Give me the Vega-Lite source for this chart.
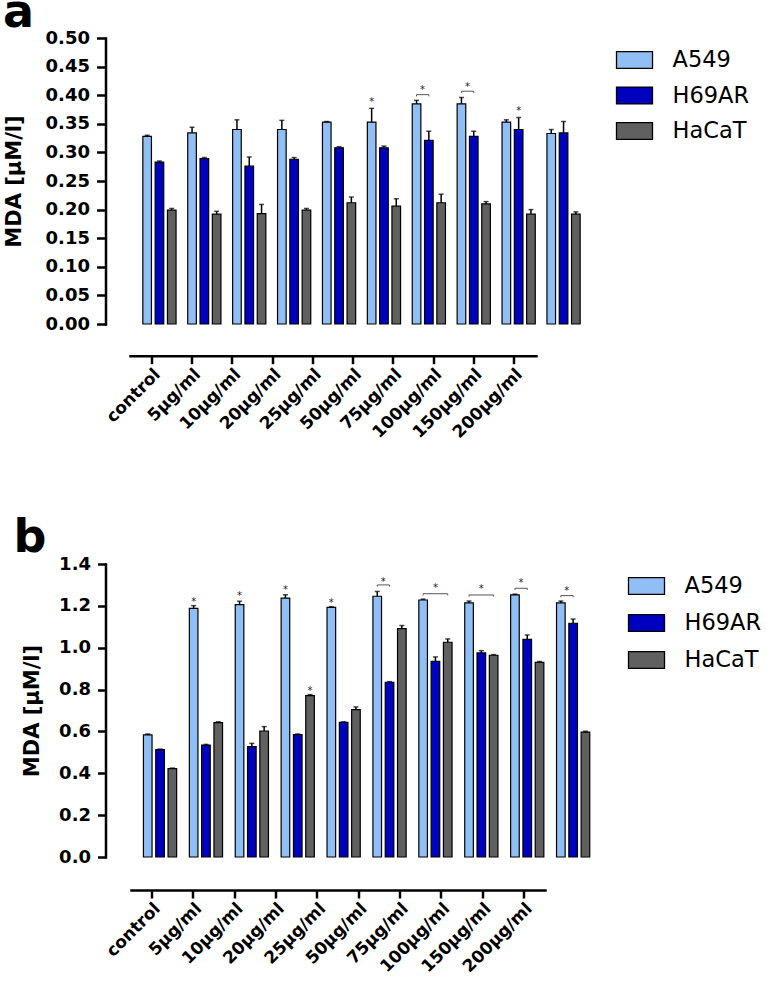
{
  "$schema": "https://vega.github.io/schema/vega-lite/v6.json",
  "padding": {"left": 2.5, "top": -10, "right": 0, "bottom": 0},
  "spacing": 74,
  "config": {
    "font": "DejaVu Sans",
    "view": {"stroke": null},
    "axis": {"domainColor": "black", "tickColor": "black", "labelColor": "black", "titleColor": "black", "grid": false, "domainWidth": 2.5, "tickWidth": 2.5, "domainCap": "square"},
    "legend": {"labelFont": "DejaVu Sans", "labelFontSize": 22.5, "labelColor": "black", "symbolType": "M-1,-0.47L1,-0.47L1,0.47L-1,0.47Z", "symbolSize": 1296, "symbolStrokeColor": "black", "symbolStrokeWidth": 1.3, "symbolOpacity": 1, "labelOffset": 19, "rowPadding": 4.5, "title": null}
  },
  "datasets": {
    "barsA": [
      {"dose": "control", "series": "A549", "value": 0.328, "upper": 0.330},
      {"dose": "control", "series": "H69AR", "value": 0.283, "upper": 0.285},
      {"dose": "control", "series": "HaCaT", "value": 0.199, "upper": 0.202},
      {"dose": "5μg/ml", "series": "A549", "value": 0.334, "upper": 0.344},
      {"dose": "5μg/ml", "series": "H69AR", "value": 0.289, "upper": 0.291},
      {"dose": "5μg/ml", "series": "HaCaT", "value": 0.192, "upper": 0.197},
      {"dose": "10µg/ml", "series": "A549", "value": 0.340, "upper": 0.357},
      {"dose": "10µg/ml", "series": "H69AR", "value": 0.276, "upper": 0.292},
      {"dose": "10µg/ml", "series": "HaCaT", "value": 0.193, "upper": 0.209},
      {"dose": "20µg/ml", "series": "A549", "value": 0.340, "upper": 0.356},
      {"dose": "20µg/ml", "series": "H69AR", "value": 0.288, "upper": 0.291},
      {"dose": "20µg/ml", "series": "HaCaT", "value": 0.199, "upper": 0.202},
      {"dose": "25µg/ml", "series": "A549", "value": 0.353, "upper": 0.354},
      {"dose": "25µg/ml", "series": "H69AR", "value": 0.308, "upper": 0.310},
      {"dose": "25µg/ml", "series": "HaCaT", "value": 0.212, "upper": 0.222},
      {"dose": "50µg/ml", "series": "A549", "value": 0.353, "upper": 0.377},
      {"dose": "50µg/ml", "series": "H69AR", "value": 0.308, "upper": 0.311},
      {"dose": "50µg/ml", "series": "HaCaT", "value": 0.206, "upper": 0.219},
      {"dose": "75µg/ml", "series": "A549", "value": 0.385, "upper": 0.391},
      {"dose": "75µg/ml", "series": "H69AR", "value": 0.321, "upper": 0.337},
      {"dose": "75µg/ml", "series": "HaCaT", "value": 0.212, "upper": 0.227},
      {"dose": "100µg/ml", "series": "A549", "value": 0.385, "upper": 0.396},
      {"dose": "100µg/ml", "series": "H69AR", "value": 0.328, "upper": 0.337},
      {"dose": "100µg/ml", "series": "HaCaT", "value": 0.210, "upper": 0.214},
      {"dose": "150µg/ml", "series": "A549", "value": 0.353, "upper": 0.357},
      {"dose": "150µg/ml", "series": "H69AR", "value": 0.340, "upper": 0.361},
      {"dose": "150µg/ml", "series": "HaCaT", "value": 0.192, "upper": 0.200},
      {"dose": "200µg/ml", "series": "A549", "value": 0.333, "upper": 0.340},
      {"dose": "200µg/ml", "series": "H69AR", "value": 0.334, "upper": 0.354},
      {"dose": "200µg/ml", "series": "HaCaT", "value": 0.192, "upper": 0.196}
    ],
    "starsA": [
      {"dose": "50µg/ml", "series": "A549", "y": 0.391},
      {"dose": "150µg/ml", "series": "H69AR", "y": 0.376}
    ],
    "starsMidA": [
      {"dose": "75µg/ml", "series": "A549", "y": 0.413},
      {"dose": "100µg/ml", "series": "A549", "y": 0.418}
    ],
    "bracketsA": [
      {"id": "a75", "dose": "75µg/ml", "series": "A549", "y": 0.398, "o": 1},
      {"id": "a75", "dose": "75µg/ml", "series": "A549", "y": 0.401, "o": 2},
      {"id": "a75", "dose": "75µg/ml", "series": "H69AR", "y": 0.401, "o": 3},
      {"id": "a75", "dose": "75µg/ml", "series": "H69AR", "y": 0.398, "o": 4},
      {"id": "a100", "dose": "100µg/ml", "series": "A549", "y": 0.404, "o": 1},
      {"id": "a100", "dose": "100µg/ml", "series": "A549", "y": 0.407, "o": 2},
      {"id": "a100", "dose": "100µg/ml", "series": "H69AR", "y": 0.407, "o": 3},
      {"id": "a100", "dose": "100µg/ml", "series": "H69AR", "y": 0.404, "o": 4}
    ],
    "barsB": [
      {"dose": "control", "series": "A549", "value": 0.584, "upper": 0.588},
      {"dose": "control", "series": "H69AR", "value": 0.513, "upper": 0.516},
      {"dose": "control", "series": "HaCaT", "value": 0.422, "upper": 0.425},
      {"dose": "5μg/ml", "series": "A549", "value": 1.188, "upper": 1.201},
      {"dose": "5μg/ml", "series": "H69AR", "value": 0.535, "upper": 0.538},
      {"dose": "5μg/ml", "series": "HaCaT", "value": 0.642, "upper": 0.646},
      {"dose": "10µg/ml", "series": "A549", "value": 1.206, "upper": 1.222},
      {"dose": "10µg/ml", "series": "H69AR", "value": 0.527, "upper": 0.543},
      {"dose": "10µg/ml", "series": "HaCaT", "value": 0.602, "upper": 0.623},
      {"dose": "20µg/ml", "series": "A549", "value": 1.237, "upper": 1.253},
      {"dose": "20µg/ml", "series": "H69AR", "value": 0.585, "upper": 0.588},
      {"dose": "20µg/ml", "series": "HaCaT", "value": 0.771, "upper": 0.776},
      {"dose": "25µg/ml", "series": "A549", "value": 1.193, "upper": 1.196},
      {"dose": "25µg/ml", "series": "H69AR", "value": 0.643, "upper": 0.646},
      {"dose": "25µg/ml", "series": "HaCaT", "value": 0.704, "upper": 0.717},
      {"dose": "50µg/ml", "series": "A549", "value": 1.246, "upper": 1.269},
      {"dose": "50µg/ml", "series": "H69AR", "value": 0.835, "upper": 0.838},
      {"dose": "50µg/ml", "series": "HaCaT", "value": 1.091, "upper": 1.106},
      {"dose": "75µg/ml", "series": "A549", "value": 1.228, "upper": 1.232},
      {"dose": "75µg/ml", "series": "H69AR", "value": 0.935, "upper": 0.956},
      {"dose": "75µg/ml", "series": "HaCaT", "value": 1.026, "upper": 1.042},
      {"dose": "100µg/ml", "series": "A549", "value": 1.214, "upper": 1.223},
      {"dose": "100µg/ml", "series": "H69AR", "value": 0.975, "upper": 0.986},
      {"dose": "100µg/ml", "series": "HaCaT", "value": 0.964, "upper": 0.967},
      {"dose": "150µg/ml", "series": "A549", "value": 1.252, "upper": 1.256},
      {"dose": "150µg/ml", "series": "H69AR", "value": 1.040, "upper": 1.061},
      {"dose": "150µg/ml", "series": "HaCaT", "value": 0.930, "upper": 0.934},
      {"dose": "200µg/ml", "series": "A549", "value": 1.214, "upper": 1.223},
      {"dose": "200µg/ml", "series": "H69AR", "value": 1.117, "upper": 1.137},
      {"dose": "200µg/ml", "series": "HaCaT", "value": 0.597, "upper": 0.601}
    ],
    "starsB": [
      {"dose": "5μg/ml", "series": "A549", "y": 1.229},
      {"dose": "10µg/ml", "series": "A549", "y": 1.257},
      {"dose": "20µg/ml", "series": "A549", "y": 1.285},
      {"dose": "20µg/ml", "series": "HaCaT", "y": 0.803},
      {"dose": "25µg/ml", "series": "A549", "y": 1.221},
      {"dose": "75µg/ml", "series": "H69AR", "y": 1.293},
      {"dose": "100µg/ml", "series": "H69AR", "y": 1.289}
    ],
    "starsMidB": [
      {"dose": "50µg/ml", "series": "A549", "y": 1.325},
      {"dose": "150µg/ml", "series": "A549", "y": 1.317},
      {"dose": "200µg/ml", "series": "A549", "y": 1.28}
    ],
    "bracketsB": [
      {"id": "b50", "dose": "50µg/ml", "series": "A549", "y": 1.292, "o": 1},
      {"id": "b50", "dose": "50µg/ml", "series": "A549", "y": 1.300, "o": 2},
      {"id": "b50", "dose": "50µg/ml", "series": "H69AR", "y": 1.300, "o": 3},
      {"id": "b50", "dose": "50µg/ml", "series": "H69AR", "y": 1.292, "o": 4},
      {"id": "b75", "dose": "75µg/ml", "series": "A549", "y": 1.250, "o": 1},
      {"id": "b75", "dose": "75µg/ml", "series": "A549", "y": 1.258, "o": 2},
      {"id": "b75", "dose": "75µg/ml", "series": "HaCaT", "y": 1.258, "o": 3},
      {"id": "b75", "dose": "75µg/ml", "series": "HaCaT", "y": 1.250, "o": 4},
      {"id": "b100", "dose": "100µg/ml", "series": "A549", "y": 1.244, "o": 1},
      {"id": "b100", "dose": "100µg/ml", "series": "A549", "y": 1.252, "o": 2},
      {"id": "b100", "dose": "100µg/ml", "series": "HaCaT", "y": 1.252, "o": 3},
      {"id": "b100", "dose": "100µg/ml", "series": "HaCaT", "y": 1.244, "o": 4},
      {"id": "b150", "dose": "150µg/ml", "series": "A549", "y": 1.276, "o": 1},
      {"id": "b150", "dose": "150µg/ml", "series": "A549", "y": 1.284, "o": 2},
      {"id": "b150", "dose": "150µg/ml", "series": "H69AR", "y": 1.284, "o": 3},
      {"id": "b150", "dose": "150µg/ml", "series": "H69AR", "y": 1.276, "o": 4},
      {"id": "b200", "dose": "200µg/ml", "series": "A549", "y": 1.241, "o": 1},
      {"id": "b200", "dose": "200µg/ml", "series": "A549", "y": 1.249, "o": 2},
      {"id": "b200", "dose": "200µg/ml", "series": "H69AR", "y": 1.249, "o": 3},
      {"id": "b200", "dose": "200µg/ml", "series": "H69AR", "y": 1.241, "o": 4}
    ]
  },
  "resolve": {"scale": {"color": "independent"}, "legend": {"color": "independent"}},
  "vconcat": [
    {
      "width": 490,
      "height": 286,
      "title": {"text": "a", "anchor": "start", "frame": "bounds", "fontSize": 46, "fontWeight": "bold", "color": "black", "offset": -8},
      "layer": [
        {
          "encoding": {
            "x": {"field": "dose", "type": "nominal", "scale": {"type": "band", "domain": ["control", "5μg/ml", "10µg/ml", "20µg/ml", "25µg/ml", "50µg/ml", "75µg/ml", "100µg/ml", "150µg/ml", "200µg/ml"], "range": [31.5, 480.5], "paddingInner": 0.178, "paddingOuter": 0.089}, "axis": null},
            "xOffset": {"field": "series", "type": "nominal", "scale": {"domain": ["A549", "H69AR", "HaCaT"], "paddingInner": 0.3, "paddingOuter": 0.15}},
            "y": {"type": "quantitative", "scale": {"domain": [0, 0.5], "nice": false}, "axis": {"title": "MDA [µM/l]", "titleFontSize": 21, "titleFontWeight": "bold", "titlePadding": 21, "values": [0, 0.05, 0.1, 0.15, 0.2, 0.25, 0.3, 0.35, 0.4, 0.45, 0.5], "format": ".2f", "labelFontSize": 18, "labelFontWeight": "bold", "tickSize": 9, "labelPadding": 7}}
          },
          "layer": [
            {
              "data": {"name": "barsA"},
              "mark": {"type": "bar", "stroke": "black", "strokeWidth": 1.2},
              "encoding": {
                "y": {"field": "value"},
                "color": {"field": "series", "type": "nominal", "scale": {"domain": ["A549", "H69AR", "HaCaT"], "range": ["#90bff5", "#0000bf", "#606060"]}, "legend": {"orient": "none", "legendX": 510, "legendY": 3}}
              }
            },
            {
              "data": {"name": "barsA"},
              "mark": {"type": "rule", "color": "black", "strokeWidth": 1.5},
              "encoding": {"y": {"field": "value"}, "y2": {"field": "upper"}}
            },
            {
              "data": {"name": "barsA"},
              "mark": {"type": "tick", "color": "black", "thickness": 1.5, "size": 5},
              "encoding": {"y": {"field": "upper"}}
            },
            {
              "data": {"name": "starsA"},
              "mark": {"type": "text", "text": "*", "fontSize": 10, "baseline": "middle", "dy": 2, "fill": "#222222"},
              "encoding": {"y": {"field": "y"}}
            },
            {
              "data": {"name": "starsMidA"},
              "mark": {"type": "text", "text": "*", "fontSize": 10, "baseline": "middle", "dy": 2, "dx": 6, "fill": "#222222"},
              "encoding": {"y": {"field": "y"}}
            },
            {
              "data": {"name": "bracketsA"},
              "mark": {"type": "line", "stroke": "#444444", "strokeWidth": 0.9},
              "encoding": {"y": {"field": "y"}, "detail": {"field": "id"}, "order": {"field": "o"}}
            }
          ]
        },
        {
          "data": {"name": "barsA"},
          "mark": {"type": "point", "opacity": 0},
          "encoding": {
            "x": {"field": "dose", "type": "nominal", "scale": {"type": "band", "domain": ["control", "5μg/ml", "10µg/ml", "20µg/ml", "25µg/ml", "50µg/ml", "75µg/ml", "100µg/ml", "150µg/ml", "200µg/ml"], "range": [24.5, 430.5], "paddingInner": 0, "paddingOuter": 0.047}, "axis": {"orient": "bottom", "offset": 31.7, "title": null, "labelAngle": -45, "labelFontSize": 17, "labelFontWeight": "bold", "tickSize": 8, "labelPadding": 2}}
          }
        }
      ],
      "resolve": {"scale": {"x": "independent"}, "axis": {"x": "independent"}}
    },
    {
      "width": 500,
      "height": 293,
      "title": {"text": "b", "anchor": "start", "frame": "bounds", "fontSize": 46, "fontWeight": "bold", "color": "black", "offset": -7, "dx": -8},
      "layer": [
        {
          "encoding": {
            "x": {"field": "dose", "type": "nominal", "scale": {"type": "band", "domain": ["control", "5μg/ml", "10µg/ml", "20µg/ml", "25µg/ml", "50µg/ml", "75µg/ml", "100µg/ml", "150µg/ml", "200µg/ml"], "range": [32, 491], "paddingInner": 0.178, "paddingOuter": 0.089}, "axis": null},
            "xOffset": {"field": "series", "type": "nominal", "scale": {"domain": ["A549", "H69AR", "HaCaT"], "paddingInner": 0.3, "paddingOuter": 0.15}},
            "y": {"type": "quantitative", "scale": {"domain": [0, 1.4], "nice": false}, "axis": {"title": "MDA [µM/l]", "titleFontSize": 21, "titleFontWeight": "bold", "titlePadding": 16, "values": [0, 0.2, 0.4, 0.6, 0.8, 1.0, 1.2, 1.4], "format": ".1f", "labelFontSize": 18, "labelFontWeight": "bold", "tickSize": 8, "labelPadding": 7}}
          },
          "layer": [
            {
              "data": {"name": "barsB"},
              "mark": {"type": "bar", "stroke": "black", "strokeWidth": 1.2},
              "encoding": {
                "y": {"field": "value"},
                "color": {"field": "series", "type": "nominal", "scale": {"domain": ["A549", "H69AR", "HaCaT"], "range": ["#90bff5", "#0000bf", "#606060"]}, "legend": {"orient": "none", "legendX": 522, "legendY": 3, "rowPadding": 6}}
              }
            },
            {
              "data": {"name": "barsB"},
              "mark": {"type": "rule", "color": "black", "strokeWidth": 1.5},
              "encoding": {"y": {"field": "value"}, "y2": {"field": "upper"}}
            },
            {
              "data": {"name": "barsB"},
              "mark": {"type": "tick", "color": "black", "thickness": 1.5, "size": 5},
              "encoding": {"y": {"field": "upper"}}
            },
            {
              "data": {"name": "starsB"},
              "mark": {"type": "text", "text": "*", "fontSize": 10, "baseline": "middle", "dy": 2, "fill": "#222222"},
              "encoding": {"y": {"field": "y"}}
            },
            {
              "data": {"name": "starsMidB"},
              "mark": {"type": "text", "text": "*", "fontSize": 10, "baseline": "middle", "dy": 2, "dx": 6, "fill": "#222222"},
              "encoding": {"y": {"field": "y"}}
            },
            {
              "data": {"name": "bracketsB"},
              "mark": {"type": "line", "stroke": "#444444", "strokeWidth": 0.9},
              "encoding": {"y": {"field": "y"}, "detail": {"field": "id"}, "order": {"field": "o"}}
            }
          ]
        },
        {
          "data": {"name": "barsB"},
          "mark": {"type": "point", "opacity": 0},
          "encoding": {
            "x": {"field": "dose", "type": "nominal", "scale": {"type": "band", "domain": ["control", "5μg/ml", "10µg/ml", "20µg/ml", "25µg/ml", "50µg/ml", "75µg/ml", "100µg/ml", "150µg/ml", "200µg/ml"], "range": [25.5, 439.5], "paddingInner": 0, "paddingOuter": 0.008}, "axis": {"orient": "bottom", "offset": 33, "title": null, "labelAngle": -45, "labelFontSize": 17, "labelFontWeight": "bold", "tickSize": 8, "labelPadding": 2}}
          }
        }
      ],
      "resolve": {"scale": {"x": "independent"}, "axis": {"x": "independent"}}
    }
  ]
}
